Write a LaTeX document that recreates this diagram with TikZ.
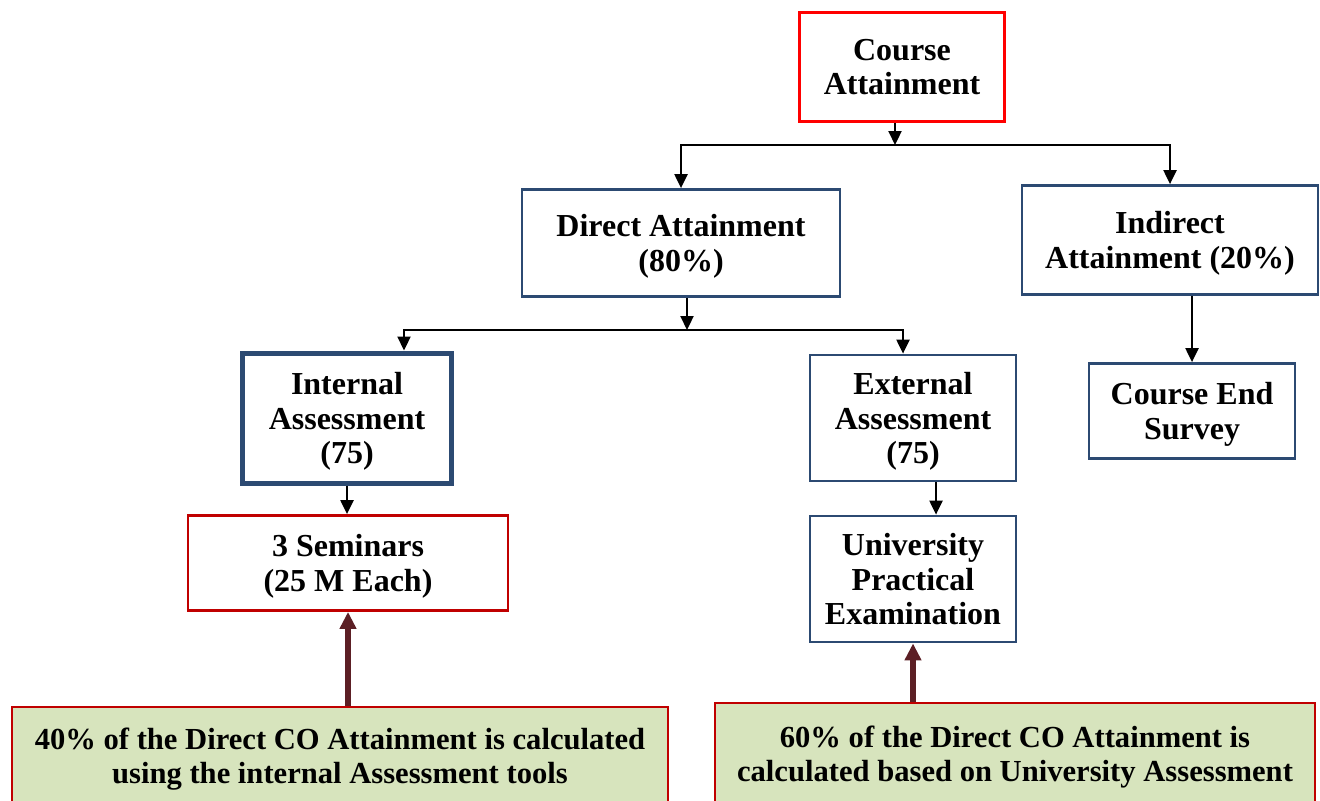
\documentclass[tikz,border=0pt]{standalone}
\usepackage{fontspec}
\setmainfont{Liberation Serif}
\usetikzlibrary{arrows.meta}

\definecolor{boxred}{HTML}{FF0000}
\definecolor{darkred}{HTML}{C00000}
\definecolor{boxblue}{HTML}{2C4A72}
\definecolor{notegreen}{HTML}{D7E4BD}
\definecolor{maroon}{HTML}{5C1F25}

\tikzset{
    box/.style={rectangle,draw=boxblue,line width=1.4pt,align=center,inner sep=0pt,text depth=0pt,
        font=\fontsize{16}{17.2}\selectfont\bfseries},
    redbox/.style={box,draw=boxred},
    note/.style={rectangle,draw=darkred,fill=notegreen,line width=1.4pt,align=center,inner sep=0pt,text depth=0pt,
        font=\fontsize{15.3}{17}\selectfont\bfseries},
    conn/.style={-{Triangle[length=7pt,width=6.5pt]},line width=1.1pt,black},
    upconn/.style={-{Triangle[length=8.5pt,width=8pt]},line width=2.6pt,maroon}
}

\begin{document}
\begin{tikzpicture}[x=0.5pt,y=-0.5pt]
    \useasboundingbox (0,0) rectangle (1320,800);

    % nodes
    \node at (902,67) [redbox,minimum width=102.5pt,minimum height=54.5pt] (course) {Course\\Attainment};
    \node at (681,243) [box,minimum width=159pt,minimum height=53.5pt] (direct) {Direct Attainment\\(80\%)};
    \node at (1170,240) [box,minimum width=148pt,minimum height=54.5pt] (indirect) {Indirect\\Attainment (20\%)};
    \node at (347,418) [box,line width=2.5pt,minimum width=104.5pt,minimum height=65pt] (internal) {Internal\\Assessment\\(75)};
    \node at (913,418) [box,minimum width=103pt,minimum height=63pt] (external) {External\\Assessment\\(75)};
    \node at (1192,411) [box,minimum width=103pt,minimum height=47.5pt] (survey) {Course End\\Survey};
    \node at (348,563) [redbox,draw=darkred,minimum width=160pt,minimum height=47.5pt] (seminars) {3 Seminars\\(25 M Each)};
    \node at (913,579) [box,minimum width=103pt,minimum height=63pt] (univ) {University\\Practical\\Examination};
    \node at (340,756) [note,minimum width=328pt,minimum height=49pt] (noteL) {40\% of the Direct CO Attainment is calculated\\using the internal Assessment tools};
    \node at (1015,754) [note,minimum width=300pt,minimum height=51pt] (noteR) {60\% of the Direct CO Attainment is\\calculated based on University Assessment};

    % junctions
    \coordinate (j1) at (895,145);
    \coordinate (j2) at (687,330);
    \coordinate (inA) at (404,330);
    \coordinate (exA) at (903,330);
    \coordinate (univA) at (936,0);

    % paths
    \draw[conn] (course.south -| j1) -- (j1);
    \draw[conn] (j1) -| (direct.north);
    \draw[conn] (j1) -| (indirect.north);
    \draw[conn] (direct.south -| j2) -- (j2);
    \draw[conn] (j2) -- (inA) -- (inA |- internal.north);
    \draw[conn] (j2) -- (exA) -- (exA |- external.north);
    \draw[conn] (survey.north |- indirect.south) -- (survey.north);
    \draw[conn] (internal.south) -- (internal.south |- seminars.north);
    \draw[conn] (univA |- external.south) -- (univA |- univ.north);
    \draw[upconn] (seminars.south |- noteL.north) -- (seminars.south);
    \draw[upconn] (univ.south |- noteR.north) -- (univ.south);
\end{tikzpicture}
\end{document}
